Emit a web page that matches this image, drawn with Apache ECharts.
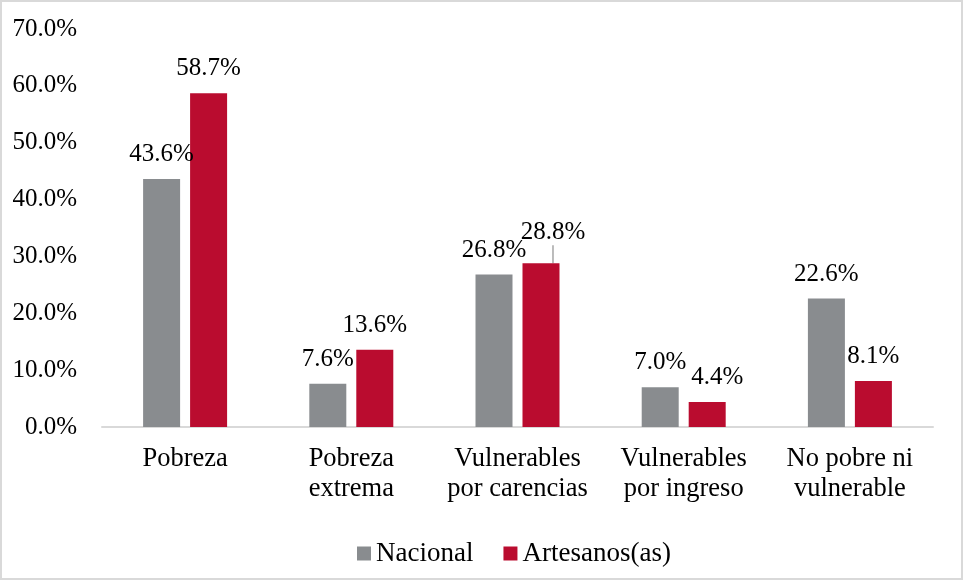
<!DOCTYPE html>
<html>
<head>
<meta charset="utf-8">
<script src="https://cdn.jsdelivr.net/npm/echarts@6/dist/echarts.min.js"></script>
<style>
  html, body { margin: 0; padding: 0; background: #fff; }
  #chart {
    width: 963px;
    height: 580px;
    box-sizing: border-box;
    border: 2px solid #d9d9d9;
  }
</style>
</head>
<body>
<div id="chart"></div>
<script>
const categories = ['Pobreza', 'Pobreza\nextrema', 'Vulnerables\npor carencias', 'Vulnerables\npor ingreso', 'No pobre ni\nvulnerable']
const nacional = [43.6, 7.6, 26.8, 7.0, 22.6]
const artesanos = [58.7, 13.6, 28.8, 4.4, 8.1]
const seriesNames = ['Nacional', 'Artesanos(as)']

const font = 'Liberation Serif, Times New Roman, serif'
const labelFmt = (p) => p.value.toFixed(1) + '%'

// 数据标签：28.8% 有引导线，4.4% 向右挪一点
const artesanosData = artesanos.map((v, i) => {
  if (i === 2) return { value: v, labelLine: { show: true } }
  return v
})

const valueLabel = {
  show: true,
  position: 'top',
  distance: 12,
  color: '#000',
  fontFamily: font,
  fontSize: 25,
  formatter: labelFmt,
}

const myEcharts = echarts.init(document.getElementById('chart'))
myEcharts.setOption({
  animation: false,
  textStyle: { fontFamily: font },
  grid: {
    left: 100,
    right: 28,
    top: 27,
    bottom: 151,
  },
  legend: {
    left: 350,
    bottom: 6,
    icon: 'rect',
    itemWidth: 14,
    itemHeight: 14,
    itemGap: 30,
    textStyle: { fontFamily: font, fontSize: 27, color: '#000' },
    data: seriesNames,
  },
  xAxis: {
    type: 'category',
    data: categories,
    axisTick: { show: false },
    axisLine: { lineStyle: { color: '#d9d9d9', width: 2 } },
    axisLabel: {
      interval: 0,
      color: '#000',
      fontFamily: font,
      fontSize: 26.5,
      lineHeight: 30,
      margin: 17,
    },
  },
  yAxis: {
    type: 'value',
    min: 0,
    max: 70,
    interval: 10,
    axisLine: { show: false },
    axisTick: { show: false },
    splitLine: { show: false },
    axisLabel: {
      color: '#000',
      fontFamily: font,
      fontSize: 25,
      margin: 25,
      formatter: (v) => v.toFixed(1) + '%',
    },
  },
  series: [
    {
      name: seriesNames[0],
      type: 'bar',
      data: nacional,
      barWidth: 37,
      barGap: '27%',
      itemStyle: { color: '#898c8f' },
      label: valueLabel,
    },
    {
      name: seriesNames[1],
      type: 'bar',
      data: artesanosData,
      barWidth: 37,
      barGap: '27%',
      itemStyle: { color: '#ba0c2f' },
      label: valueLabel,
      labelLine: {
        show: false,
        lineStyle: { color: '#a6a6a6', width: 1.5 },
      },
      labelLayout: (params) => {
        if (params.dataIndex === 2) return { dx: 12, dy: -6 }
        if (params.dataIndex === 3) return { dx: 10 }
        return {}
      },
    },
  ],
})
</script>
</body>
</html>
